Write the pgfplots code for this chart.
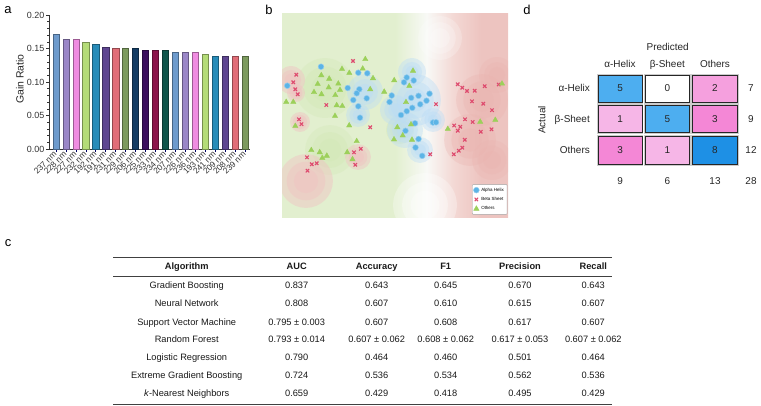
\documentclass[border=0pt]{standalone}
\usepackage{pgfplots}
\usepackage{pgfplotstable}
\pgfplotsset{compat=1.18}
\usepackage{fontspec}
\setmainfont{Liberation Sans}
% bar colours
\definecolor{c1}{RGB}{110,155,205}
\definecolor{c2}{RGB}{155,135,200}
\definecolor{c3}{RGB}{240,140,225}
\definecolor{c4}{RGB}{180,220,120}
\definecolor{c5}{RGB}{40,140,185}
\definecolor{c6}{RGB}{95,70,145}
\definecolor{c7}{RGB}{225,110,120}
\definecolor{c8}{RGB}{125,155,95}
\definecolor{c9}{RGB}{20,60,100}
\definecolor{c10}{RGB}{60,15,95}
\definecolor{c11}{RGB}{140,20,75}
\definecolor{c12}{RGB}{15,85,75}
% scatter colours
\definecolor{bgG}{RGB}{226,239,207}
\definecolor{bgW}{RGB}{248,249,246}
\definecolor{bgR1}{RGB}{243,216,212}
\definecolor{bgR2}{RGB}{237,196,192}
\definecolor{bBlue}{RGB}{186,220,246}
\definecolor{bPink}{RGB}{240,194,194}
\definecolor{bRedS}{RGB}{234,180,176}
\definecolor{bGreenS}{RGB}{208,231,178}
\definecolor{aBlue}{RGB}{92,180,230}
\definecolor{aBlueD}{RGB}{150,205,238}
\definecolor{bRed}{RGB}{222,75,110}
\definecolor{oGreen}{RGB}{156,208,90}
% confusion colours
\definecolor{blue5}{RGB}{77,174,240}
\definecolor{blue8}{RGB}{30,144,229}
\definecolor{pink1}{RGB}{246,182,231}
\definecolor{pink2}{RGB}{245,160,222}
\definecolor{pink3}{RGB}{244,135,214}

\pgfdeclarehorizontalshading{bshade}{100bp}{color(0bp)=(bgG); color(25bp)=(bgG); color(50bp)=(bgG); color(57bp)=(bgW); color(63bp)=(bgR1); color(69bp)=(bgR2); color(75bp)=(bgR2); color(100bp)=(bgR2)}

\pgfplotsset{
  gbar/.style={ybar, bar width=0.62, bar shift=0pt, fill=#1, draw=#1!65!black, line width=0.5bp},
  bl/.style n args={2}{only marks, mark=*, forget plot, color=#1,
     mark options={draw=#1, draw opacity=0, line width=0pt, fill=#1, fill opacity=#2}},
}
% soft background blob: x y r colour opacity (three layers)
\newcommand\blob[5]{%
  \addplot[bl={#4}{#5}, mark size=#3] coordinates {(#1,#2)};
  \addplot[bl={#4}{#5}, mark size={0.72*#3}] coordinates {(#1,#2)};
  \addplot[bl={#4}{#5}, mark size={0.45*#3}] coordinates {(#1,#2)};
}

% ---- panel b data (pixel-like coordinates) ----
\pgfplotstableread{
x y
287.3 85.7
321 66.7
358.3 72.7
367.3 73.3
347.7 88
359.3 89.3
356.7 93.3
353.3 100
366.7 98.3
358.3 106.3
360 117.7
406.7 77.5
413.7 80.5
404 82.3
391.7 95.5
389.5 102
411.2 97.8
418.5 95.8
429.5 93.7
426.5 100.7
420.2 104.3
412.3 107.8
406.7 111.2
401 115
415 123.3
433 122.5
436 122.3
405.5 130.8
418.5 139
415.5 147.5
422.2 155.8
}\tabA
\pgfplotstableread{
x y
353 61
296.3 74.7
293.3 82.3
295.3 89.3
297.7 94.3
326.3 105
299 119.3
301.5 124.2
370.2 127.3
436 104.2
457.7 84.3
462.3 87.7
467 91
474.7 90.7
484.7 86.2
498.7 84.5
472 101.3
483.3 103.7
492 110.2
465 119.3
472.7 122
454.2 125.5
460.3 126.8
457.8 130.7
480.8 131.8
491.5 129.3
464.8 139.8
462.3 147.7
458.8 150.7
453.8 154.3
430.2 154.3
307 157.3
311.8 164.3
316.7 163.3
307.5 170.7
360.8 148.8
354 152.3
355.3 164.8
}\tabB
\pgfplotstableread{
x y
365.3 59.2
342 69
349.3 73
362.7 68.7
373 78.3
413 70.8
394.2 80.3
409.3 86
321.3 75.3
329.2 78.8
317.7 84
328.7 87.5
338.3 83.7
340 90
314 92.2
321.5 94.3
335.3 95.2
286.2 102
293.3 102
336.7 105.3
342.3 106
335 116
384.2 91.8
370.2 89.3
406 102.2
295.3 126
349.2 125.5
397.3 127.3
411 124.5
402.7 135.5
394 139.5
412 139.8
356.7 141.2
311.3 150.2
319.7 152.3
326.8 155.8
322.3 158
347.2 152.3
352.5 159.3
447.8 129
480.2 121.8
495.3 120
502 83.7
}\tabO

\begin{document}
\begin{tikzpicture}
\path[use as bounding box] (0,0) rectangle (761bp,-406bp);

% panel letters
\node[font=\fontsize{13}{13}\selectfont, inner sep=0pt] at (8bp,-10bp) {a};
\node[font=\fontsize{13}{13}\selectfont, inner sep=0pt] at (269bp,-10bp) {b};
\node[font=\fontsize{13}{13}\selectfont, inner sep=0pt] at (8bp,-243bp) {c};
\node[font=\fontsize{13}{13}\selectfont, inner sep=0pt] at (527bp,-10bp) {d};

% ================= panel a =================
\node[rotate=90, font=\fontsize{10.5}{11}\selectfont, inner sep=0pt, text=black!85] at (20bp,-79bp) {Gain Ratio};
\begin{axis}[at={(49bp,-149bp)}, anchor=south west, scale only axis,
  width=201bp, height=134bp,
  xmin=0.3, xmax=20.5, ymin=0, ymax=0.2,
  axis x line*=bottom, axis y line*=left,
  ytick={0,0.05,0.1,0.15,0.2}, yticklabels={0.00,0.05,0.10,0.15,0.20},
  minor y tick num=4,
  xtick={1,...,20},
  xticklabels={237 nm,228 nm,227 nm,232 nm,192 nm,191 nm,231 nm,229 nm,206 nm,225 nm,233 nm,234 nm,207 nm,226 nm,236 nm,193 nm,241 nm,209 nm,208 nm,239 nm},
  tick align=outside, major tick length=3bp, minor tick length=1.8bp,
  yticklabel style={font=\fontsize{9}{9}\selectfont, text=black!80, inner sep=1.5pt},
  xticklabel style={rotate=45, anchor=east, font=\fontsize{8.4}{9}\selectfont, text=black!80, inner sep=1pt},
  axis line style={line width=0.8bp, black!80},
  every tick/.style={black!80, line width=0.6bp},
  x tick style={color=blue!40!black},
]
\addplot[gbar=c1] coordinates {(1,0.172)};
\addplot[gbar=c2] coordinates {(2,0.164)};
\addplot[gbar=c3] coordinates {(3,0.164)};
\addplot[gbar=c4] coordinates {(4,0.159)};
\addplot[gbar=c5] coordinates {(5,0.156)};
\addplot[gbar=c6] coordinates {(6,0.152)};
\addplot[gbar=c7] coordinates {(7,0.151)};
\addplot[gbar=c8] coordinates {(8,0.150)};
\addplot[gbar=c9] coordinates {(9,0.150)};
\addplot[gbar=c10] coordinates {(10,0.148)};
\addplot[gbar=c11] coordinates {(11,0.148)};
\addplot[gbar=c12] coordinates {(12,0.148)};
\addplot[gbar=c1] coordinates {(13,0.145)};
\addplot[gbar=c2] coordinates {(14,0.145)};
\addplot[gbar=c3] coordinates {(15,0.144)};
\addplot[gbar=c4] coordinates {(16,0.142)};
\addplot[gbar=c5] coordinates {(17,0.139)};
\addplot[gbar=c6] coordinates {(18,0.138)};
\addplot[gbar=c7] coordinates {(19,0.138)};
\addplot[gbar=c8] coordinates {(20,0.138)};
\end{axis}

% ================= panel b =================
\begin{axis}[at={(282bp,-217bp)}, anchor=south west, scale only axis,
  width=226bp, height=204bp,
  xmin=282, xmax=508, ymin=13, ymax=217, y dir=reverse,
  hide axis, clip marker paths=true,
  legend style={at={(0.997,0.012)}, anchor=south east, draw=black!35, fill=white,
    font=\fontsize{4.5}{5}\selectfont, inner sep=1.2pt, row sep=0.6pt, rounded corners=0.8pt},
  legend cell align=left,
]
\addplot[draw=none, shade, shading=bshade, forget plot] coordinates {(282,13) (508,13) (508,217) (282,217)} --cycle;
% green intensifications
\blob{325}{88}{30}{bGreenS}{0.3}
\blob{330}{150}{25}{bGreenS}{0.3}
\blob{400}{130}{14}{bGreenS}{0.3}
% whitish areas
\blob{425}{205}{32}{white}{0.3}
\blob{440}{38}{22}{white}{0.22}
% red intensifications
\blob{482}{100}{26}{bRedS}{0.32}
\blob{470}{140}{26}{bRedS}{0.32}
\blob{497}{75}{18}{bRedS}{0.3}
\blob{492}{160}{20}{bRedS}{0.3}
% blue region
\blob{415}{100}{26}{bBlue}{0.4}
\blob{405}{130}{18}{bBlue}{0.4}
\blob{420}{150}{13}{bBlue}{0.4}
\blob{365}{92}{18}{bBlue}{0.4}
\blob{358}{115}{12}{bBlue}{0.4}
\blob{412}{72}{14}{bBlue}{0.4}
\blob{433}{120}{12}{bBlue}{0.4}
\blob{395}{110}{15}{bBlue}{0.4}
% pink blobs
\blob{291}{80}{14}{bPink}{0.45}
\blob{296}{93}{9}{bPink}{0.45}
\blob{300}{122}{10}{bPink}{0.45}
\blob{306}{181}{27}{bPink}{0.45}
\blob{358}{157}{13}{bPink}{0.45}
% data
\addplot[only marks, mark=*, mark size=2.9, mark options={fill=aBlue, draw=aBlueD, line width=0.5bp}] table {\tabA};
\addplot[only marks, mark=x, mark size=2.4, mark options={draw=bRed, line width=1.1bp}] table {\tabB};
\addplot[only marks, mark=triangle*, mark size=3.1, mark options={fill=oGreen, draw=oGreen}] table {\tabO};
\legend{Alpha Helix, Beta Sheet, Others}
\end{axis}

% ================= panel d =================
\begin{axis}[at={(598bp,-164.3bp)}, anchor=south west, scale only axis,
  width=139.3bp, height=89bp,
  xmin=598, xmax=737.3, ymin=75.3, ymax=164.3, y dir=reverse,
  hide axis, clip=false,
  every axis plot/.append style={draw=black!85, line width=0.9bp, preaction={draw=black!20, line width=2.6bp}},
]
\addplot[fill=blue5] coordinates {(598.3,75.3) (642,75.3) (642,102.3) (598.3,102.3)} --cycle;
\addplot[fill=white] coordinates {(645.3,75.3) (689.3,75.3) (689.3,102.3) (645.3,102.3)} --cycle;
\addplot[fill=pink2] coordinates {(692.7,75.3) (737.3,75.3) (737.3,102.3) (692.7,102.3)} --cycle;
\addplot[fill=pink1] coordinates {(598.3,105.7) (642,105.7) (642,132.7) (598.3,132.7)} --cycle;
\addplot[fill=blue5] coordinates {(645.3,105.7) (689.3,105.7) (689.3,132.7) (645.3,132.7)} --cycle;
\addplot[fill=pink3] coordinates {(692.7,105.7) (737.3,105.7) (737.3,132.7) (692.7,132.7)} --cycle;
\addplot[fill=pink3] coordinates {(598.3,136.3) (642,136.3) (642,164.3) (598.3,164.3)} --cycle;
\addplot[fill=pink1] coordinates {(645.3,136.3) (689.3,136.3) (689.3,164.3) (645.3,164.3)} --cycle;
\addplot[fill=blue8] coordinates {(692.7,136.3) (737.3,136.3) (737.3,164.3) (692.7,164.3)} --cycle;
\end{axis}
\begin{scope}[every node/.style={font=\fontsize{10}{11}\selectfont, inner sep=0pt, anchor=mid, text=black!85}]
\node at (667.7bp,-47.7bp) {Predicted};
\node at (620bp,-64.5bp) {α-Helix};
\node at (667.3bp,-64.5bp) {β-Sheet};
\node at (715bp,-64.5bp) {Others};
\node[anchor=mid east] at (590bp,-89bp) {α-Helix};
\node[anchor=mid east] at (590bp,-120bp) {β-Sheet};
\node[anchor=mid east] at (590bp,-151bp) {Others};
\node[rotate=90, anchor=center] at (541.7bp,-120bp) {Actual};
\node at (620.2bp,-89bp) {5};
\node at (667.3bp,-89bp) {0};
\node at (715bp,-89bp) {2};
\node at (620.2bp,-119.5bp) {1};
\node at (667.3bp,-119.5bp) {5};
\node at (715bp,-119.5bp) {3};
\node at (620.2bp,-150.5bp) {3};
\node at (667.3bp,-150.5bp) {1};
\node at (715bp,-150.5bp) {8};
\node at (751bp,-89bp) {7};
\node at (751bp,-119.5bp) {9};
\node at (751bp,-150.5bp) {12};
\node at (620.2bp,-181.7bp) {9};
\node at (667.3bp,-181.7bp) {6};
\node at (715bp,-181.7bp) {13};
\node at (751bp,-181.7bp) {28};
\end{scope}

% ================= panel c (table) =================
\draw[line width=1.4bp, black!75] (113bp,-257.7bp) -- (612bp,-257.7bp);
\draw[line width=0.8bp, black!75] (113bp,-276bp) -- (612bp,-276bp);
\draw[line width=1.4bp, black!75] (113bp,-404.6bp) -- (612bp,-404.6bp);
\begin{scope}[every node/.style={font=\fontsize{9.3}{11}\selectfont, inner sep=0pt, anchor=mid, text=black!90}]
\node[font=\fontsize{9.3}{11}\selectfont\bfseries] at (186.7bp,-267.3bp) {Algorithm};
\node[font=\fontsize{9.3}{11}\selectfont\bfseries] at (296.7bp,-267.3bp) {AUC};
\node[font=\fontsize{9.3}{11}\selectfont\bfseries] at (376.7bp,-267.3bp) {Accuracy};
\node[font=\fontsize{9.3}{11}\selectfont\bfseries] at (445.7bp,-267.3bp) {F1};
\node[font=\fontsize{9.3}{11}\selectfont\bfseries] at (520bp,-267.3bp) {Precision};
\node[font=\fontsize{9.3}{11}\selectfont\bfseries] at (593.3bp,-267.3bp) {Recall};
% rows
\node at (186.7bp,-286bp) {Gradient Boosting};
\node at (296.7bp,-286bp) {0.837};
\node at (376.7bp,-286bp) {0.643};
\node at (445.7bp,-286bp) {0.645};
\node at (520bp,-286bp) {0.670};
\node at (593.3bp,-286bp) {0.643};
\node at (186.7bp,-304.3bp) {Neural Network};
\node at (296.7bp,-304.3bp) {0.808};
\node at (376.7bp,-304.3bp) {0.607};
\node at (445.7bp,-304.3bp) {0.610};
\node at (520bp,-304.3bp) {0.615};
\node at (593.3bp,-304.3bp) {0.607};
\node at (186.7bp,-322.6bp) {Support Vector Machine};
\node at (296.7bp,-322.6bp) {0.795 ± 0.003};
\node at (376.7bp,-322.6bp) {0.607};
\node at (445.7bp,-322.6bp) {0.608};
\node at (520bp,-322.6bp) {0.617};
\node at (593.3bp,-322.6bp) {0.607};
\node at (186.7bp,-340.3bp) {Random Forest};
\node at (296.7bp,-340.3bp) {0.793 ± 0.014};
\node at (376.7bp,-340.3bp) {0.607 ± 0.062};
\node at (445.7bp,-340.3bp) {0.608 ± 0.062};
\node at (520bp,-340.3bp) {0.617 ± 0.053};
\node at (593.3bp,-340.3bp) {0.607 ± 0.062};
\node at (186.7bp,-357.8bp) {Logistic Regression};
\node at (296.7bp,-357.8bp) {0.790};
\node at (376.7bp,-357.8bp) {0.464};
\node at (445.7bp,-357.8bp) {0.460};
\node at (520bp,-357.8bp) {0.501};
\node at (593.3bp,-357.8bp) {0.464};
\node at (186.7bp,-375.8bp) {Extreme Gradient Boosting};
\node at (296.7bp,-375.8bp) {0.724};
\node at (376.7bp,-375.8bp) {0.536};
\node at (445.7bp,-375.8bp) {0.534};
\node at (520bp,-375.8bp) {0.562};
\node at (593.3bp,-375.8bp) {0.536};
\node at (186.7bp,-394bp) {\textit{k}-Nearest Neighbors};
\node at (296.7bp,-394bp) {0.659};
\node at (376.7bp,-394bp) {0.429};
\node at (445.7bp,-394bp) {0.418};
\node at (520bp,-394bp) {0.495};
\node at (593.3bp,-394bp) {0.429};
\end{scope}
\end{tikzpicture}
\end{document}
